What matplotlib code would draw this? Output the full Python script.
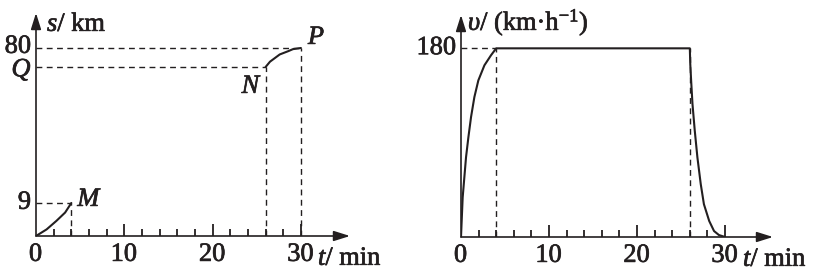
import numpy as np
import matplotlib
matplotlib.use("Agg")
import matplotlib.pyplot as plt
import matplotlib.patheffects as pe

plt.rcParams['font.family'] = ['Liberation Serif', 'DejaVu Serif']
plt.rcParams['mathtext.fontset'] = 'custom'
plt.rcParams['mathtext.rm'] = 'Liberation Serif'
plt.rcParams['mathtext.it'] = 'Liberation Serif:italic'

INK = '#231f20'
FS = 19
BOLD = [pe.withStroke(linewidth=0.5, foreground=INK)]

# s-t chart (schematic, not to scale)
t_om = [0, 1.2, 2.3, 3.3, 4]
s_om = [0, 1.8, 4.1, 6.4, 9]
t_np = [26, 26.5, 27.6, 28.6, 29.1, 30]
s_np = [75, 76.4, 78.3, 79.2, 79.7, 80]
pt_M = (4, 9)
pt_N = (26, 75)
pt_P = (30, 80)
s_ticks = [9, 75, 80]
s_labels = ['$9$', '$Q$', '$80$']

# v-t chart
t_v = [0, 0.19, 0.38, 0.57, 0.84, 1.14, 1.52, 1.97, 2.66, 3.41, 4,
       26, 26.05, 26.15, 26.3, 26.56, 26.86, 27.24, 27.6, 28.2, 28.75, 29.3, 30]
v = [0, 37.7, 56.9, 76, 95.2, 114.4, 133.5, 149.4, 163.8, 173.4, 180,
     180, 165, 149, 127, 101.5, 76, 50.5, 31.3, 15.3, 5.7, 1.9, 0]
v_ticks = [180]
v_labels = ['$180$']

t_major = [0, 10, 20, 30]
t_minor = [2, 4, 6, 8, 12, 14, 16, 18, 22, 24, 26, 28]

# the s axis is drawn out of scale: km -> drawing height
S_NODES = [0, 9, 75, 80, 120]
H_NODES = [0, 33, 169, 188, 340]


def s_fwd(s):
    return np.interp(s, S_NODES, H_NODES)


def s_inv(h):
    return np.interp(h, H_NODES, S_NODES)


W, H = 830, 275
fig = plt.figure(figsize=(W / 100, H / 100), dpi=100)

ax1 = fig.add_axes([36 / W, (H - 236) / H, (350 - 36) / W, 223 / H])
ax2 = fig.add_axes([461 / W, (H - 237) / H, (773 - 461) / W, 222 / H])

dash = dict(color=INK, lw=1.0, dashes=(4.2, 3.2))
curve = dict(color=INK, lw=1.5, solid_capstyle='round')


def label(ax, txt, xy, off, ha='left', va='center', coords='data'):
    ax.annotate(txt, xy=xy, xytext=off, xycoords=coords, textcoords='offset pixels',
                fontsize=FS, color=INK, ha=ha, va=va, annotation_clip=False,
                path_effects=BOLD)


def setup(ax, xmax, ylim):
    ax.set_xlim(0, xmax)
    ax.set_ylim(*ylim)
    ax.axis('off')
    tr = ax.get_xaxis_transform()
    for t in t_major:
        ax.annotate('$%d$' % t, xy=(t, 0), xytext=(0, -8), xycoords=tr,
                    textcoords='offset pixels', fontsize=FS, color=INK, ha='center',
                    va='top', path_effects=BOLD)
    arrow = dict(arrowstyle='-|>,head_length=0.7,head_width=0.22', color=INK, lw=1.2,
                 shrinkA=0, shrinkB=0, mutation_scale=14)
    ax.annotate('', xy=(1, 0), xytext=(0, 0), xycoords='axes fraction', arrowprops=arrow,
                annotation_clip=False)
    ax.annotate('', xy=(0, 1), xytext=(0, 0), xycoords='axes fraction', arrowprops=arrow,
                annotation_clip=False)
    label(ax, '$t$/ min', (0, 0), (282, -29), va='baseline', coords='axes fraction')


def ticks(ax):
    # upward tick marks on the time axis (TICKUP markers sit on the axis line)
    ax.plot(t_minor, np.zeros(len(t_minor)), ls='none', marker=2, ms=5.2, mew=1.3,
            color=INK, clip_on=False, zorder=10)
    ax.plot(t_major[1:], np.zeros(len(t_major) - 1), ls='none', marker=2, ms=8.8,
            mew=1.3, color=INK, clip_on=False, zorder=10)


def ylabels(ax, ticks_, labels, nudges):
    tr = ax.get_yaxis_transform()
    for y, lab, dy in zip(ticks_, labels, nudges):
        ax.annotate(lab, xy=(0, y), xytext=(-4, dy), xycoords=tr, textcoords='offset pixels',
                    fontsize=FS, color=INK, ha='right', va='center', path_effects=BOLD)


# left panel: s-t
ax1.set_yscale('function', functions=(s_fwd, s_inv))
setup(ax1, 35.56, (0, float(s_inv(223))))
ylabels(ax1, s_ticks, s_labels, [0, -3, 1])
ax1.plot(t_om, s_om, **curve)
ax1.plot(t_np, s_np, **curve)
for (tx, sy) in (pt_M, pt_N, pt_P):
    ax1.plot([0, tx], [sy, sy], **dash)
    ax1.plot([tx, tx], [0, sy], **dash)
label(ax1, '$M$', pt_M, (6, 3))
label(ax1, '$N$', pt_N, (-3, -20), ha='right')
label(ax1, '$P$', pt_P, (7, 10))
label(ax1, '$s$/ km', (0, 1), (11, -18), va='baseline', coords='axes fraction')
ticks(ax1)

# right panel: v-t
setup(ax2, 35.45, (0, 211.8))
ylabels(ax2, v_ticks, v_labels, [0])
ax2.plot(t_v, v, **curve)
ax2.plot([0, t_v[10]], [v[10], v[10]], **dash)
ax2.plot([t_v[10], t_v[10]], [0, v[10]], **dash)
ax2.plot([t_v[11], t_v[11]], [0, v[11]], **dash)
label(ax2, r'$\upsilon$/ (km·h$^{-1}$)', (0, 1), (7, -15), va='baseline',
      coords='axes fraction')
ticks(ax2)

fig.savefig('out.png', dpi=100, facecolor='white')
